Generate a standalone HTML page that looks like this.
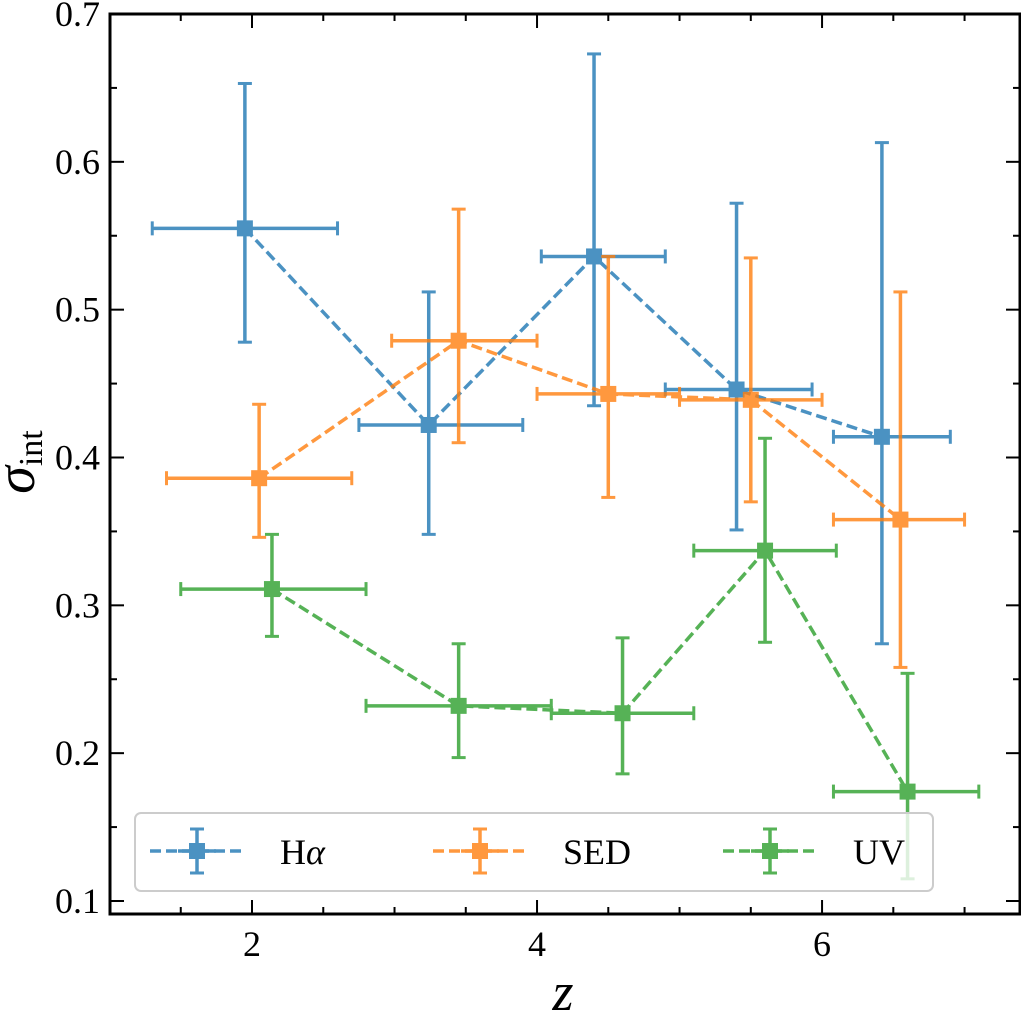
<!DOCTYPE html>
<html><head><meta charset="utf-8"><style>
body{margin:0;background:#fff;}
svg{display:block;font-family:"Liberation Serif",serif;}
</style></head><body>
<svg id="chart" width="1021" height="1018"></svg>
<script>
const seriesNames=["Hα","SED","UV"];
const seriesColors=["#1f77b4","#ff7f0e","#2ca02c"];
const hx=[1.95,3.24,4.40,5.40,6.42];
const hy=[0.555,0.422,0.536,0.446,0.414];
const hxlo=[1.30,2.75,4.03,4.90,6.08];
const hxhi=[2.60,3.90,4.90,5.93,6.90];
const hylo=[0.478,0.348,0.435,0.351,0.274];
const hyhi=[0.653,0.512,0.673,0.572,0.613];
const sx=[2.05,3.45,4.50,5.50,6.55];
const sy=[0.386,0.479,0.443,0.439,0.358];
const sxlo=[1.40,2.98,4.00,5.00,6.08];
const sxhi=[2.70,4.00,5.00,6.00,7.00];
const sylo=[0.346,0.410,0.373,0.370,0.258];
const syhi=[0.436,0.568,0.536,0.535,0.512];
const ux=[2.14,3.45,4.60,5.60,6.60];
const uy=[0.311,0.232,0.227,0.337,0.174];
const uxlo=[1.50,2.80,4.10,5.10,6.08];
const uxhi=[2.80,4.10,5.10,6.10,7.10];
const uylo=[0.279,0.197,0.186,0.275,0.115];
const uyhi=[0.348,0.274,0.278,0.413,0.254];
const xTicks=[2,4,6];
const yTicks=[0.1,0.2,0.3,0.4,0.5,0.6,0.7];

const L=110,R=1020,T=14,B=914;
const X0=1.0035,X1=7.389,Y0=0.0912,Y1=0.7;
const sxf=v=>L+(v-X0)/(X1-X0)*(R-L);
const syf=v=>B-(v-Y0)/(Y1-Y0)*(B-T);
const svg=document.getElementById('chart');
const NS='http://www.w3.org/2000/svg';
function mk(tag,attrs,parent){const e=document.createElementNS(NS,tag);for(const k in attrs)e.setAttribute(k,attrs[k]);(parent||svg).appendChild(e);return e;}

const ax=mk('g',{});


for(let v=1.5;v<=7.3;v+=0.5){const x=sxf(v);const maj=Math.abs(v-Math.round(v/2)*2)<1e-6;const len=maj?14:7;
 mk('line',{x1:x,x2:x,y1:B,y2:B-len,stroke:'#000','stroke-width':2},ax);
 mk('line',{x1:x,x2:x,y1:T,y2:T+len,stroke:'#000','stroke-width':2},ax);}
for(let v=0.1;v<=0.7001;v+=0.05){const y=syf(v);const maj=Math.abs(v*10-Math.round(v*10))<1e-6;const len=maj?14:7;
 mk('line',{x1:L,x2:L+len,y1:y,y2:y,stroke:'#000','stroke-width':2},ax);
 mk('line',{x1:R,x2:R-len,y1:y,y2:y,stroke:'#000','stroke-width':2},ax);}
xTicks.forEach(v=>{const t=mk('text',{x:sxf(v),y:B+42,'font-size':36,'text-anchor':'middle'},ax);t.textContent=v;
 });
yTicks.forEach(v=>{const t=mk('text',{x:L-10,y:syf(v)+12,'font-size':36,'text-anchor':'end'},ax);t.textContent=v.toFixed(1);
 });
const xt=mk('text',{x:(L+R)/2-2,y:1010,'font-size':54,'font-style':'italic','text-anchor':'middle'});xt.textContent='z';

const yt=mk('text',{x:0,y:0,'font-size':56,'font-style':'italic',transform:'translate(34,462) rotate(-90)','text-anchor':'middle'});
yt.innerHTML='σ<tspan font-size="34" font-style="normal" dy="8">int</tspan>';


const all=[[hx,hy,hxlo,hxhi,hylo,hyhi],[sx,sy,sxlo,sxhi,sylo,syhi],[ux,uy,uxlo,uxhi,uylo,uyhi]];
all.forEach((d,i)=>{const c=seriesColors[i];
 const g=mk('g',{opacity:0.8});
 
 
 const pts=d[0].map((v,j)=>sxf(v)+','+syf(d[1][j])).join(' ');
 mk('polyline',{points:pts,fill:'none',stroke:c,'stroke-width':3.5,'stroke-dasharray':'11,5'},g);
 d[0].forEach((v,j)=>{const x=sxf(v),y=syf(d[1][j]);
  const x1=sxf(d[2][j]),x2=sxf(d[3][j]),y1=syf(d[4][j]),y2=syf(d[5][j]);
  mk('line',{x1:x1,x2:x2,y1:y,y2:y,stroke:c,'stroke-width':3.5},g);
  mk('line',{x1:x,x2:x,y1:y1,y2:y2,stroke:c,'stroke-width':3.5},g);
  [x1,x2].forEach(xx=>mk('line',{x1:xx,x2:xx,y1:y-7,y2:y+7,stroke:c,'stroke-width':3},g));
  [y1,y2].forEach(yy=>mk('line',{x1:x-7,x2:x+7,y1:yy,y2:yy,stroke:c,'stroke-width':3},g));
  const m=mk('rect',{x:x-8,y:y-8,width:16,height:16,fill:c},g);
  
 });
});
mk('rect',{x:L,y:T,width:R-L,height:B-T,fill:'none',stroke:'#000','stroke-width':3});
const lg=mk('g',{});

mk('rect',{x:135,y:813,width:798,height:78,rx:6,fill:'#fff','fill-opacity':0.8,stroke:'#ccc','stroke-width':2},lg);
const lx=[150,433,723];
seriesNames.forEach((n,i)=>{const c=seriesColors[i];const y=851;const e=mk('g',{opacity:0.8},lg);
 
 const x0=lx[i],xm=x0+47;
 mk('line',{x1:x0,x2:x0+94,y1:y,y2:y,stroke:c,'stroke-width':3.5,'stroke-dasharray':'11,5'},e);
 mk('line',{x1:x0+28,x2:x0+66,y1:y,y2:y,stroke:c,'stroke-width':3.5},e);
 mk('line',{x1:xm,x2:xm,y1:y-22,y2:y+22,stroke:c,'stroke-width':3.5},e);
 mk('line',{x1:xm-7,x2:xm+7,y1:y-22,y2:y-22,stroke:c,'stroke-width':3},e);
 mk('line',{x1:xm-7,x2:xm+7,y1:y+22,y2:y+22,stroke:c,'stroke-width':3},e);
 mk('rect',{x:xm-8,y:y-8,width:16,height:16,fill:c},e);
 const t=mk('text',{x:x0+130,y:y+13,'font-size':36},lg);
 if(i===0){t.innerHTML='H<tspan font-style="italic">α</tspan>';}else t.textContent=n;
});
</script>
</body></html>
